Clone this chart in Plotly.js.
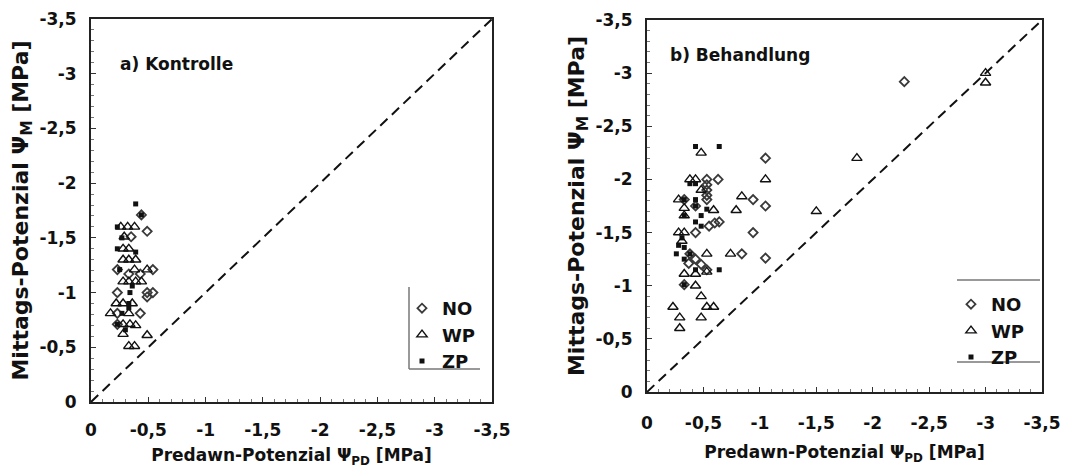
<!DOCTYPE html>
<html>
<head>
<meta charset="utf-8">
<script src="https://cdn.plot.ly/plotly-3.0.1.min.js"></script>
<style>html,body{margin:0;padding:0;background:#fff;}#chart{width:1075px;height:468px;}</style>
</head>
<body>
<div id="chart"></div>
<script>
// ---- data (values in MPa) ----
const seriesNames = ['NO', 'WP', 'ZP'];

// a) Kontrolle
const noKontrolleX = [-0.44,-0.49,-0.35,-0.23,-0.54,-0.33,-0.43,-0.23,-0.49,-0.54,-0.49,-0.23,-0.43,-0.23];
const noKontrolleY = [-1.71,-1.56,-1.51,-1.21,-1.21,-1.17,-1.17,-1.00,-1.00,-1.00,-0.96,-0.81,-0.81,-0.71];
const wpKontrolleX = [-0.26,-0.32,-0.38,-0.29,-0.28,-0.33,-0.28,-0.33,-0.39,-0.38,-0.49,-0.28,-0.33,-0.39,-0.44,-0.22,-0.28,-0.36,-0.17,-0.33,-0.28,-0.34,-0.39,-0.28,-0.49,-0.33,-0.38];
const wpKontrolleY = [-1.60,-1.60,-1.60,-1.51,-1.40,-1.40,-1.30,-1.30,-1.30,-1.21,-1.21,-1.10,-1.10,-1.10,-1.10,-0.90,-0.90,-0.90,-0.81,-0.81,-0.71,-0.71,-0.70,-0.62,-0.61,-0.51,-0.51];
const zpKontrolleX = [-0.39,-0.44,-0.23,-0.27,-0.23,-0.39,-0.25,-0.34,-0.36,-0.27,-0.33,-0.23,-0.33,-0.30];
const zpKontrolleY = [-1.81,-1.71,-1.60,-1.50,-1.40,-1.37,-1.21,-1.00,-1.06,-0.81,-0.86,-0.71,-0.90,-0.66];

// b) Behandlung
const noBehandlungX = [-0.53,-0.63,-0.53,-0.53,-0.53,-0.53,-0.33,-0.43,-0.94,-1.05,-1.05,-0.94,-1.05,-0.43,-0.55,-0.60,-0.64,-0.84,-0.43,-0.37,-0.48,-0.53,-0.33,-0.38,-2.28];
const noBehandlungY = [-2.00,-2.00,-1.95,-1.90,-1.85,-1.81,-1.81,-1.75,-1.81,-2.20,-1.75,-1.50,-1.26,-1.50,-1.56,-1.59,-1.60,-1.30,-1.25,-1.21,-1.20,-1.15,-1.01,-1.30,-2.92];
const wpBehandlungX = [-0.48,-0.38,-0.43,-0.48,-0.28,-0.84,-0.79,-0.33,-0.59,-0.33,-0.28,-0.33,-0.31,-0.53,-0.74,-0.53,-0.33,-0.43,-0.43,-0.48,-0.23,-0.53,-0.59,-0.29,-0.48,-0.29,-1.05,-1.86,-1.50,-3.00,-3.00];
const wpBehandlungY = [-2.25,-2.00,-2.00,-1.90,-1.81,-1.84,-1.71,-1.73,-1.71,-1.66,-1.50,-1.50,-1.42,-1.30,-1.30,-1.13,-1.11,-1.11,-1.00,-0.90,-0.80,-0.80,-0.80,-0.70,-0.70,-0.60,-2.00,-2.20,-1.70,-3.00,-2.91];
const zpBehandlungX = [-0.43,-0.64,-0.38,-0.43,-0.33,-0.43,-0.43,-0.53,-0.33,-0.48,-0.43,-0.48,-0.28,-0.33,-0.26,-0.38,-0.33,-0.43,-0.64,-0.33,-0.31];
const zpBehandlungY = [-2.31,-2.31,-1.96,-1.96,-1.81,-1.81,-1.75,-1.72,-1.66,-1.66,-1.60,-1.56,-1.38,-1.36,-1.30,-1.30,-1.25,-1.15,-1.15,-1.01,-1.45];

// 1:1 line
const oneToOne = [0, -3.5];

// ticks
const tickVals = [0, -0.5, -1, -1.5, -2, -2.5, -3, -3.5];
const tickText = ['0', '-0,5', '-1', '-1,5', '-2', '-2,5', '-3', '-3,5'];

// ---- styles ----
const FONT = '"DejaVu Sans", Arial, sans-serif';
const INK = '#111';
const boldTicks = tickText.map(t => '<b>' + t + '</b>');
const markerStyles = {
  NO: {symbol: 'diamond-open', size: 7, color: '#3a3a3a', line: {width: 1.8, color: '#3a3a3a'}},
  WP: {symbol: 'triangle-up-open', size: 9, color: '#111', line: {width: 1.4, color: '#111'}},
  ZP: {symbol: 'square', size: 5, color: '#111', line: {width: 0}}
};

function pts(name, x, y, xa, ya, legend) {
  return {type: 'scatter', mode: 'markers', name: name, x: x, y: y,
    xaxis: xa, yaxis: ya, legend: legend, marker: markerStyles[name],
    hoverinfo: 'x+y+name'};
}
function diag(xa, ya) {
  return {type: 'scatter', mode: 'lines', x: oneToOne, y: oneToOne, xaxis: xa, yaxis: ya,
    showlegend: false, hoverinfo: 'skip',
    line: {color: '#111', width: 2, dash: '10px,6px'}};
}

const traces = [
  diag('x', 'y'),
  pts('NO', noKontrolleX, noKontrolleY, 'x', 'y', 'legend'),
  pts('WP', wpKontrolleX, wpKontrolleY, 'x', 'y', 'legend'),
  pts('ZP', zpKontrolleX, zpKontrolleY, 'x', 'y', 'legend'),
  diag('x2', 'y2'),
  pts('NO', noBehandlungX, noBehandlungY, 'x2', 'y2', 'legend2'),
  pts('WP', wpBehandlungX, wpBehandlungY, 'x2', 'y2', 'legend2'),
  pts('ZP', zpBehandlungX, zpBehandlungY, 'x2', 'y2', 'legend2')
];

const W = 1075, H = 468;
const px = v => v / W;
const py = v => 1 - v / H;

function commonAxis() {
  return {
    range: [0, -3.5], fixedrange: true,
    tickmode: 'array', tickvals: tickVals, ticktext: boldTicks,
    ticks: 'inside', ticklen: 5, tickwidth: 1, tickcolor: '#333',
    minor: {dtick: 0.1, tick0: 0, ticks: 'inside', ticklen: 3, tickwidth: 1, tickcolor: '#777'},
    showgrid: false, zeroline: false,
    showline: true, mirror: true, linewidth: 2, linecolor: '#222',
    tickfont: {family: FONT, size: 17, color: INK, weight: 700},
    automargin: false
  };
}
function xAxis(domain, anchor, labelStandoff, titleStandoff) {
  return Object.assign(commonAxis(), {
    domain: domain, anchor: anchor, ticklabelstandoff: labelStandoff,
    title: {text: '<b>Predawn-Potenzial Ψ<sub>PD</sub> [MPa]</b>', standoff: titleStandoff,
      font: {family: FONT, size: 17, color: INK, weight: 700}}
  });
}
function yAxis(domain, anchor, labelStandoff, titleStandoff) {
  return Object.assign(commonAxis(), {
    domain: domain, anchor: anchor, ticklabelstandoff: labelStandoff,
    title: {text: '<b>Mittags-Potenzial Ψ<sub>M</sub> [MPa]</b>', standoff: titleStandoff,
      font: {family: FONT, size: 22, color: INK, weight: 700}}
  });
}

const legendLine = {color: '#777', width: 1.5};
const legendFont = {family: FONT, size: 18, color: INK, weight: 700};
const layout = {
  width: W, height: H,
  margin: {l: 0, r: 0, t: 0, b: 0},
  paper_bgcolor: '#fff', plot_bgcolor: '#fff',
  font: {family: FONT, color: INK},
  showlegend: true,
  xaxis: xAxis([px(91), px(492)], 'y', 12, 14),
  yaxis: yAxis([py(402), py(19)], 'x', 9, 5),
  xaxis2: xAxis([px(647), px(1042)], 'y2', 15, 14),
  yaxis2: yAxis([py(392), py(20)], 'x2', 9, 5),
  legend: {x: px(402), y: py(290), xanchor: 'left', yanchor: 'top',
    bgcolor: 'rgba(0,0,0,0)', borderwidth: 0, font: legendFont},
  legend2: {x: px(951), y: py(286), xanchor: 'left', yanchor: 'top',
    bgcolor: 'rgba(0,0,0,0)', borderwidth: 0, font: legendFont},
  annotations: [
    {text: '<b>a) Kontrolle</b>', xref: 'paper', yref: 'paper', x: px(118), y: py(64),
      xanchor: 'left', yanchor: 'middle', showarrow: false,
      font: {family: FONT, size: 17, color: INK}},
    {text: '<b>b) Behandlung</b>', xref: 'paper', yref: 'paper', x: px(668), y: py(55),
      xanchor: 'left', yanchor: 'middle', showarrow: false,
      font: {family: FONT, size: 17, color: INK}}
  ],
  shapes: [
    {type: 'line', xref: 'paper', yref: 'paper', x0: px(409), x1: px(409), y0: py(287), y1: py(369), line: legendLine},
    {type: 'line', xref: 'paper', yref: 'paper', x0: px(409), x1: px(480), y0: py(369), y1: py(369), line: legendLine},
    {type: 'line', xref: 'paper', yref: 'paper', x0: px(957), x1: px(1040), y0: py(280), y1: py(280), line: legendLine},
    {type: 'line', xref: 'paper', yref: 'paper', x0: px(957), x1: px(1040), y0: py(362), y1: py(362), line: legendLine}
  ]
};

Plotly.newPlot('chart', traces, layout, {displayModeBar: false, staticPlot: true});
</script>
</body>
</html>
